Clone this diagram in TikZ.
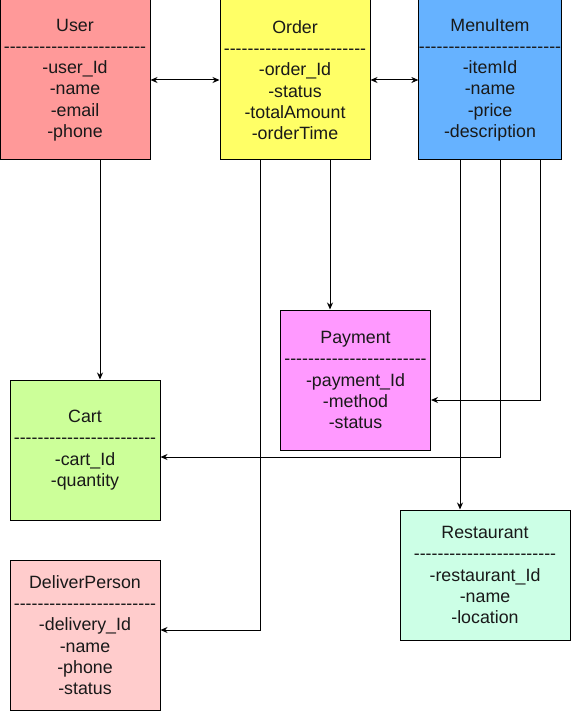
\documentclass[tikz,border=0pt]{standalone}
\usepackage{fontspec}
\setmainfont{Liberation Sans}[Ligatures=TeXOff]
\usepackage{xcolor}
\usepackage{tikz}
\usetikzlibrary{arrows.meta,positioning,calc}
\definecolor{userRed}{HTML}{FF9999}
\definecolor{orderYellow}{HTML}{FFFF66}
\definecolor{menuBlue}{HTML}{66B2FF}
\definecolor{payPink}{HTML}{FF99FF}
\definecolor{cartGreen}{HTML}{CCFF99}
\definecolor{restMint}{HTML}{CCFFE6}
\definecolor{deliverRose}{HTML}{FFCCCC}
\newcommand\sepline{------------------------}

\begin{document}
\begin{tikzpicture}[x = 1pt, y = -1pt,
  entity/.style = {draw, line width = 1pt, inner sep = 0pt, align = center,
    font = \fontsize{17.8}{21.3}\selectfont, text = black!90},
  link/.style = {line width = 1pt, -{Stealth[length = 7pt, width = 6pt]}},
  twoway/.style = {line width = 1pt, {Stealth[length = 7pt, width = 6pt]}-{Stealth[length = 7pt, width = 6pt]}}]
\useasboundingbox (0,0) rectangle (571,711);
% classes
\node[entity, fill = userRed, minimum width = 150pt, minimum height = 160pt] (user) at (75,80)
  {User\\\sepline\\-user\_Id\\-name\\-email\\-phone};
\node[entity, fill = orderYellow, minimum width = 150pt, minimum height = 160pt] (order) at (295,80)
  {Order\\\sepline\\-order\_Id\\-status\\-totalAmount\\-orderTime};
\node[entity, fill = menuBlue, minimum width = 140pt, minimum height = 160pt] (menu) at (490,80)
  {MenuItem\\\sepline\\-itemId\\-name\\-price\\-description};
\node[entity, fill = payPink, minimum width = 150pt, minimum height = 140pt] (payment) at (355.5,380)
  {Payment\\\sepline\\-payment\_Id\\-method\\-status};
\node[entity, fill = cartGreen, minimum width = 150pt, minimum height = 140pt] (cart) at (85,450)
  {Cart\\\sepline\\-cart\_Id\\-quantity};
\node[entity, fill = restMint, minimum width = 170pt, minimum height = 130pt] (rest) at (485,575)
  {Restaurant\\\sepline\\-restaurant\_Id\\-name\\-location};
\node[entity, fill = deliverRose, minimum width = 150pt, minimum height = 150pt] (deliver) at (85,635)
  {DeliverPerson\\\sepline\\-delivery\_Id\\-name\\-phone\\-status};
% connectors
\draw[twoway] (user.east) -- (order.west);
\draw[twoway] (order.east) -- (menu.west);
\draw[link] ([xshift = 25pt]user.south) -- ([xshift = 25pt]user.south |- cart.north);
\draw[link] ([xshift = 35pt]order.south) -- ([xshift = 35pt]order.south |- payment.north);
\draw[link] ([xshift = -35pt]order.south) |- ([yshift = 5pt]deliver.east);
\draw[link] ([xshift = 50pt]menu.south) |- ([yshift = -20pt]payment.east);
\draw[link] ([xshift = 10pt]menu.south) |- ([yshift = -7pt]cart.east);
\draw[link] ([xshift = -30pt]menu.south) -- ([xshift = -30pt]menu.south |- rest.north);
\end{tikzpicture}
\end{document}
